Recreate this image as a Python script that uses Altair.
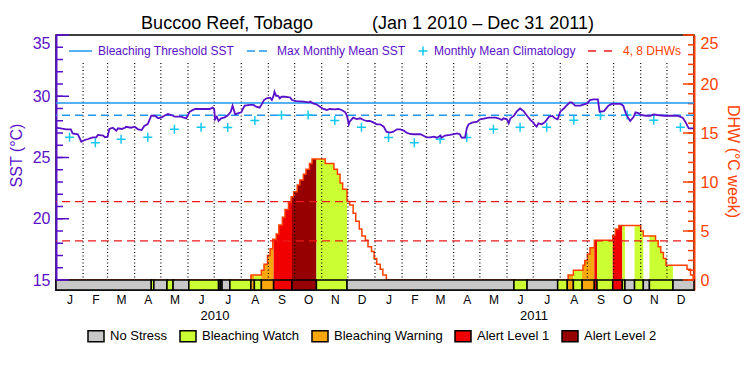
import altair as alt
import pandas as pd

START = pd.Timestamp("2010-01-01")
END_DAY = 730  # 2012-01-01

# ---------------- data ----------------
# SST (°C), day offsets from 2010-01-01
sst_day = [0, 12, 17, 19, 25, 29, 33, 37, 42, 46, 48, 54, 56, 59, 61, 65, 69, 71, 75, 79,
           80, 86, 90, 94, 98, 101, 105, 109, 113, 117, 121, 124, 128, 132, 136, 143, 149, 153, 159, 166,
           176, 179, 181, 182, 184, 186, 189, 193, 197, 200, 202, 205, 208, 212, 214, 216, 222, 226, 229, 233,
           236, 238, 241, 245, 247, 249, 250, 252, 254, 256, 258, 262, 268, 270, 275, 283, 289, 291, 294, 298,
           302, 306, 310, 313, 319, 323, 327, 331, 333, 335, 336, 340, 344, 348, 352, 356, 359,
           363, 367, 371, 375, 378, 382, 386, 390, 394, 398, 401, 405, 409, 417, 420, 424, 428, 432, 436,
           440, 441, 445, 451, 459, 462, 464, 468, 470, 472, 476, 482, 485, 491, 495, 503, 506, 510, 512, 516,
           518, 520, 524, 527, 531, 535, 539, 543, 546, 548, 550, 552, 556, 560, 564, 568, 571, 574, 577, 581,
           585, 588, 590, 594, 600, 604, 608, 611, 615, 620, 622, 627, 632, 636, 646, 649, 652, 655, 657, 661,
           663, 667, 669, 675, 680, 684, 688, 696, 711, 717, 720, 724, 729]
sst_val = [27.43, 27.3, 27.3, 26.97, 26.89, 26.29, 26.43, 26.51, 26.65, 26.65, 26.84, 26.78, 26.65, 26.7, 27.33, 27.43, 27.19, 27.38, 27.33, 27.43,
           27.51, 27.43, 27.51, 27.3, 27.24, 27.57, 27.73, 28.41, 28.41, 28.2, 28.28, 28.41, 28.55, 28.47, 28.33, 28.33, 28.2, 28.74, 28.96, 28.96,
           28.96, 29.07, 28.96, 28.12, 28.33, 27.98, 28.2, 28.28, 28.47, 28.74, 29.23, 28.52, 28.6, 28.69, 29.0, 29.23, 29.29, 29.29, 29.15, 29.07,
           29.42, 29.69, 29.83, 29.88, 29.69, 30.05, 30.37, 30.02, 30.05, 29.83, 29.96, 29.96, 29.9, 29.69, 29.61, 29.56, 29.5, 29.56, 29.42, 29.34,
           29.15, 28.96, 28.88, 28.96, 28.93, 28.96, 28.88, 28.69, 28.41, 27.71, 27.93, 28.25, 28.14, 28.2, 28.06, 27.98, 27.98,
           27.87, 27.71, 27.71, 27.52, 27.11, 27.03, 27.11, 27.3, 27.3, 27.2, 27.03, 26.92, 26.9, 26.9, 26.79, 26.65, 26.65, 26.7, 26.62,
           26.79, 26.62, 26.79, 26.84, 26.97, 26.9, 26.62, 26.62, 27.38, 27.71, 27.84, 27.93, 28.12, 28.2, 28.25, 28.25, 28.2, 28.06, 28.2, 28.12,
           27.79, 28.2, 28.41, 28.74, 29.0, 28.79, 28.41, 28.05, 27.87, 27.65, 27.52, 27.79, 27.71, 27.93, 28.33, 28.39, 28.2, 28.12, 28.74, 29.0,
           29.29, 29.5, 29.5, 29.23, 29.23, 29.34, 29.42, 29.69, 29.74, 29.74, 28.74, 28.79, 29.23, 29.37, 29.37, 29.23, 28.6, 28.2, 27.98, 28.33,
           28.69, 28.6, 28.47, 28.41, 28.41, 28.52, 28.47, 28.41, 28.41, 28.25, 27.93, 27.38, 27.38]

# Monthly mean climatology (Jan..Dec 2010, Jan..Dec 2011)
clim_val = [26.65, 26.21, 26.49, 26.65, 27.3, 27.47, 27.45, 28.02, 28.44, 28.46, 28.02, 27.47,
            26.63, 26.21, 26.49, 26.63, 27.3, 27.47, 27.47, 28.04, 28.43, 28.47, 28.04, 27.47]
MMM = 28.44
THRESHOLD = 29.44

# Degree heating weeks (step changes), day offsets from 2010-01-01
dhw_day = [0, 223, 235, 238, 242, 245, 248, 252, 255, 259, 262, 266, 269, 272, 276, 279, 283, 286, 290, 293,
           308, 318, 322, 325, 328, 333, 336, 340, 343, 347, 350, 354, 357, 361, 364, 367, 371, 374, 378,
           586, 592, 603, 605, 608, 611, 616, 637, 640, 644, 669, 672, 686, 689, 692, 695, 698, 722, 726, 729]
dhw_val = [0, 0.5, 1.0, 1.6, 2.5, 3.2, 4.15, 4.7, 5.6, 6.4, 7.2, 7.9, 8.5, 9.0, 9.7, 10.2, 10.8, 11.3, 11.9, 12.35,
           11.9, 11.3, 10.8, 9.9, 9.25, 8.0, 7.65, 6.8, 6.0, 5.2, 4.5, 4.05, 3.4, 2.9, 2.2, 1.6, 1.1, 0.5, 0,
           0.5, 1.0, 1.5, 2.0, 2.65, 3.3, 4.05, 4.55, 5.2, 5.55, 5.0, 4.5, 4.0, 3.4, 2.8, 2.2, 1.5, 1.1, 0.5, 0]
DHW_LINES = [4, 8]

# Stress level runs (start day, level)
level_day = [0, 109, 112, 127, 134, 152, 186, 188, 190, 199, 223, 227, 235, 249, 270, 298, 333,
             524, 539, 574, 585, 592, 602, 616, 619, 637, 648, 651, 662, 672, 679, 706]
level_name = ["No Stress", "Bleaching Watch", "No Stress", "Bleaching Watch", "No Stress", "Bleaching Watch",
              "No Stress", "Bleaching Watch", "No Stress", "Bleaching Watch", "Bleaching Warning", "Bleaching Watch",
              "Bleaching Warning", "Alert Level 1", "Alert Level 2", "Bleaching Watch", "No Stress",
              "Bleaching Watch", "No Stress", "Bleaching Watch", "Bleaching Warning", "Bleaching Watch",
              "Bleaching Warning", "Alert Level 1", "Bleaching Watch", "Alert Level 1", "Bleaching Watch",
              "No Stress", "Bleaching Watch", "No Stress", "Bleaching Watch", "No Stress"]

LEVELS = ["No Stress", "Bleaching Watch", "Bleaching Warning", "Alert Level 1", "Alert Level 2"]
LEVEL_COLORS = ["#C8C8C8", "#CCFF33", "#F8A80C", "#F00000", "#960000"]

SST_MAJOR = [15, 20, 25, 30, 35]
SST_MINOR = list(range(15, 36))
DHW_MAJOR = [0, 5, 10, 15, 20, 25]
DHW_MINOR = list(range(0, 26))
YEARS = ["2010", "2011"]

# ---------------- styling ----------------
FONT = "Liberation Sans"
PURPLE = "#5A10C8"
BLUE = "#1E96F0"
CYAN = "#14C8F0"
ORANGE = "#FF4000"
RED = "#F01818"
W, H = 638, 255
SST_MIN = 15 - 10 / 12.25
DHW_MIN = -10 / 9.8


def d(day):
    return START + pd.Timedelta(days=day)


month_starts = pd.date_range("2010-01-01", "2012-01-01", freq="MS")
mid_months = [a + (b - a) / 2 for a, b in zip(month_starts[:-1], month_starts[1:])]


def dt(t):
    return alt.DateTime(year=t.year, month=t.month, date=t.day, hours=t.hour)


x_scale = alt.Scale(domain=[alt.DateTime(year=2010, month=1, date=1),
                            alt.DateTime(year=2012, month=1, date=1)], nice=False)
sst_scale = alt.Scale(domain=[SST_MIN, 35], nice=False, zero=False)
dhw_scale = alt.Scale(domain=[DHW_MIN, 25], nice=False, zero=False)
lvl_scale = alt.Scale(domain=LEVELS, range=LEVEL_COLORS)

# ---------------- tables ----------------
sst_df = pd.DataFrame({"date": [d(x) for x in sst_day], "sst": sst_val})
clim_df = pd.DataFrame({"date": mid_months, "clim": clim_val})
dhw_df = pd.DataFrame({"date": [d(x) for x in dhw_day + [END_DAY]], "dhw": dhw_val + [dhw_val[-1]]})

ends = level_day[1:] + [END_DAY]
bar_df = pd.DataFrame({"start": [d(x) for x in level_day], "end": [d(x) for x in ends],
                       "level": level_name, "zero": 0})


def lookup(days, vals, t):
    v = vals[0]
    for dd, vv in zip(days, vals):
        if dd <= t:
            v = vv
    return v


# filled area under the DHW steps, one step-area per run of the same stress level
breaks = sorted(set(dhw_day + level_day + [END_DAY]))
runs = []
for a, b in zip(breaks[:-1], breaks[1:]):
    h = lookup(dhw_day, dhw_val, a)
    lv = lookup(level_day, level_name, a)
    if h > 0 and lv != "No Stress":
        if runs and runs[-1]["level"] == lv and runs[-1]["segs"][-1][1] == a:
            runs[-1]["segs"].append((a, b, h))
        else:
            runs.append({"level": lv, "segs": [(a, b, h)]})
rows = []
for i, r in enumerate(runs):
    for a, b, h in r["segs"]:
        rows.append({"date": d(a), "dhw": h, "zero": 0, "level": r["level"], "run": i})
    a, b, h = r["segs"][-1]
    rows.append({"date": d(b), "dhw": h, "zero": 0, "level": r["level"], "run": i})
fill_df = pd.DataFrame(rows)

grid_df = pd.DataFrame({"date": list(month_starts[1:-1])})
year_df = pd.DataFrame({"date": [pd.Timestamp("2010-07-02"), pd.Timestamp("2011-07-02")], "year": YEARS})

# ---------------- DHW layers (right axis) ----------------
right_axis = alt.Axis(orient="right", values=DHW_MAJOR, ticks=False, grid=False,
                      domainColor=ORANGE, domainWidth=2, labelColor=ORANGE, labelFont=FONT,
                      labelFontSize=16, labelPadding=6, labelFlush=True,
                      title="DHW (°C week)", titleColor=ORANGE, titleFont=FONT, titleFontSize=16,
                      titleFontWeight="normal", titleAngle=90, titleX=38, titleY=126,
                      titleAlign="center", titleBaseline="middle")

x_axis = alt.Axis(values=[dt(t) for t in mid_months],
                  labelExpr="substring(timeFormat(datum.value, '%b'), 0, 1)",
                  ticks=False, domain=False, grid=False, labelFont=FONT, labelFontSize=12,
                  labelColor="black", labelPadding=4, title=None, labelOverlap=False, labelFlush=False)

fill = alt.Chart(fill_df).mark_area(interpolate="step-after").encode(
    x=alt.X("date:T", scale=x_scale, axis=None),
    y=alt.Y("dhw:Q", scale=dhw_scale, axis=None), y2="zero:Q",
    fill=alt.Fill("level:N", scale=lvl_scale, legend=None),
    detail="run:N")

dhw_line = alt.Chart(dhw_df).mark_line(interpolate="step-after", color=ORANGE, strokeWidth=1.5).encode(
    x=alt.X("date:T", scale=x_scale, axis=None),
    y=alt.Y("dhw:Q", scale=dhw_scale, axis=None))

dhw_dash = alt.Chart(pd.DataFrame({"v": DHW_LINES})).mark_rule(
    color=RED, strokeDash=[8, 5], strokeWidth=1.3).encode(
    y=alt.Y("v:Q", scale=dhw_scale, axis=right_axis))

legend = alt.Legend(orient="none", legendX=31, legendY=292, direction="horizontal", title=None,
                    symbolType="M-1,-0.69L1,-0.69L1,0.69L-1,0.69Z", symbolSize=256,
                    symbolStrokeColor="black", symbolStrokeWidth=1.5, symbolOpacity=1,
                    labelFont=FONT, labelFontSize=13, labelColor="black", labelOffset=5,
                    columnPadding=9, padding=0)

bar = alt.Chart(bar_df).mark_rect(stroke="black", strokeWidth=1.5).encode(
    x=alt.X("start:T", scale=x_scale, axis=x_axis), x2="end:T",
    y=alt.Y("zero:Q", scale=dhw_scale, axis=None), y2=alt.value(H),
    fill=alt.Fill("level:N", scale=lvl_scale, legend=legend))

dhw_tmin = alt.Chart(pd.DataFrame({"v": DHW_MINOR})).mark_rule(color=ORANGE, strokeWidth=1.5).encode(
    y=alt.Y("v:Q", scale=dhw_scale, axis=None), x=alt.value(W), x2=alt.value(W - 6))
dhw_tmaj = alt.Chart(pd.DataFrame({"v": DHW_MAJOR})).mark_rule(color=ORANGE, strokeWidth=1.5).encode(
    y=alt.Y("v:Q", scale=dhw_scale, axis=None), x=alt.value(W), x2=alt.value(W - 11))

# ---------------- SST layers (left axis) ----------------
left_axis = alt.Axis(orient="left", values=SST_MAJOR, ticks=False, grid=False,
                     domainColor=PURPLE, domainWidth=2, labelColor=PURPLE, labelFont=FONT,
                     labelFontSize=16, labelPadding=6, labelFlush=True,
                     title="SST (°C)", titleColor=PURPLE, titleFont=FONT, titleFontSize=16,
                     titleFontWeight="normal", titleAngle=270, titleX=-40, titleY=120,
                     titleAlign="center", titleBaseline="middle")

grid = alt.Chart(grid_df).mark_rule(color="black", strokeDash=[1, 2.5], strokeWidth=1.2).encode(
    x=alt.X("date:T", scale=x_scale, axis=None), y=alt.value(28), y2=alt.value(245))

thr = alt.Chart(pd.DataFrame({"v": [THRESHOLD]})).mark_rule(color=BLUE, strokeWidth=1.5).encode(
    y=alt.Y("v:Q", scale=sst_scale, axis=left_axis))
mmm = alt.Chart(pd.DataFrame({"v": [MMM]})).mark_rule(color=BLUE, strokeWidth=1.5, strokeDash=[8, 5]).encode(
    y=alt.Y("v:Q", scale=sst_scale, axis=None))

PLUS = "M-1,0L1,0M0,-1L0,1"
clim = alt.Chart(clim_df).mark_point(shape=PLUS, size=81, filled=False, strokeWidth=1.5,
                                     color=CYAN, opacity=1).encode(
    x=alt.X("date:T", scale=x_scale, axis=None),
    y=alt.Y("clim:Q", scale=sst_scale, axis=None))

sst_line = alt.Chart(sst_df).mark_line(color=PURPLE, strokeWidth=1.8).encode(
    x=alt.X("date:T", scale=x_scale, axis=None),
    y=alt.Y("sst:Q", scale=sst_scale, axis=None))

sst_tmin = alt.Chart(pd.DataFrame({"v": SST_MINOR})).mark_rule(color=PURPLE, strokeWidth=1.5).encode(
    y=alt.Y("v:Q", scale=sst_scale, axis=None), x=alt.value(0), x2=alt.value(7))
sst_tmaj = alt.Chart(pd.DataFrame({"v": SST_MAJOR})).mark_rule(color=PURPLE, strokeWidth=1.5).encode(
    y=alt.Y("v:Q", scale=sst_scale, axis=None), x=alt.value(0), x2=alt.value(13))

years = alt.Chart(year_df).mark_text(font=FONT, fontSize=13, color="black", baseline="middle").encode(
    x=alt.X("date:T", scale=x_scale, axis=None), y=alt.value(281), text="year:N")


def label(txt, x, color, align="left", size=12, y=16, baseline="middle"):
    return alt.Chart().mark_text(text=txt, font=FONT, fontSize=size, color=color, align=align,
                                 baseline=baseline).encode(x=alt.value(x), y=alt.value(y))


title1 = label("Buccoo Reef, Tobago", 171, "black", align="center", size=18, y=-6, baseline="alphabetic")
title2 = label("(Jan 1 2010 – Dec 31 2011)", 427, "black", align="center", size=18, y=-6, baseline="alphabetic")

leg_line = alt.Chart().mark_rule(color=BLUE, strokeWidth=1.5).encode(
    x=alt.value(13), x2=alt.value(36), y=alt.value(16))
leg_mmm = alt.Chart().mark_rule(color=BLUE, strokeWidth=1.5, strokeDash=[8, 4]).encode(
    x=alt.value(191), x2=alt.value(211), y=alt.value(16))
leg_plus = alt.Chart().mark_point(shape=PLUS, size=81, filled=False, strokeWidth=1.5,
                                  color=CYAN, opacity=1).encode(x=alt.value(367), y=alt.value(16))
leg_red = alt.Chart().mark_rule(color=RED, strokeWidth=1.5, strokeDash=[8, 8]).encode(
    x=alt.value(532), x2=alt.value(556), y=alt.value(16))

chart = alt.layer(
    fill, dhw_line, dhw_dash, bar, dhw_tmin, dhw_tmaj,
    grid, thr, mmm, clim, sst_line, sst_tmin, sst_tmaj, years, title1, title2,
    leg_line, label("Bleaching Threshold SST", 42, PURPLE),
    leg_mmm, label("Max Monthly Mean SST", 221, PURPLE),
    leg_plus, label("Monthly Mean Climatology", 378, PURPLE),
    leg_red, label("4, 8 DHWs", 567, ORANGE),
).resolve_scale(y="independent").resolve_axis(x="independent").resolve_legend(fill="independent").properties(
    width=W, height=H,
    padding={"left": 56, "top": 35, "right": 56, "bottom": 85},
    autosize=alt.AutoSizeParams(type="none"),
).configure_view(stroke="black", strokeWidth=1.5).configure_legend(padding=0)

chart.save("out.html", embed_options={"renderer": "svg", "actions": False})
